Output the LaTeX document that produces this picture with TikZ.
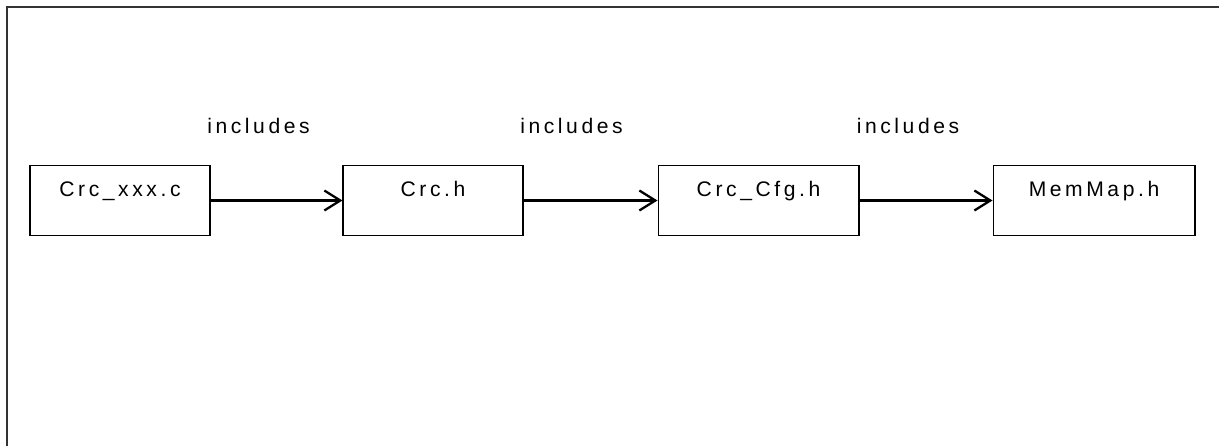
\documentclass[tikz,border=0pt]{standalone}
\usepackage{fontspec}
\setmainfont[LetterSpace=17]{Liberation Sans}
\usetikzlibrary{arrows.meta}

\begin{document}
\begin{tikzpicture}[x=0.02cm,y=-0.02cm,
   file/.style={draw,line width=0.6pt,inner sep=0pt,
                text height=0.62cm,text depth=0.78cm},
   incl/.style={-{Straight Barb[length=3.2mm,width=4mm,line width=1.3pt]},line width=1.2pt},
   word/.style={inner sep=0pt,anchor=base},
   font=\fontsize{12}{14}\selectfont]
   \useasboundingbox (0,0) rectangle (1219,446);
   \draw[black!80,line width=1.2pt] (1219,7) -- (7,7) -- (7,446);
   \node[file,text width=3.6cm,align=center]  (crcc)   at ( 120,200.5) {Crc\_xxx.c};
   \node[file,text width=3.6cm,align=center]  (crch)   at ( 433,200.5) {Crc.h};
   \node[file,text width=4.02cm,align=center] (crccfg) at (758.5,200.5) {Crc\_Cfg.h};
   \node[file,text width=4.04cm,align=center] (memmap) at (1094,200.5) {MemMap.h};
   \draw[incl] (crcc.east)   -- (crch.west);
   \draw[incl] (crch.east)   -- (crccfg.west);
   \draw[incl] (crccfg.east) -- (memmap.west);
   \node[word] (inc1) at (258.5,133) {includes};
   \node[word] (inc2) at (571.5,133) {includes};
   \node[word] (inc3) at (908,133)   {includes};
\end{tikzpicture}
\end{document}
